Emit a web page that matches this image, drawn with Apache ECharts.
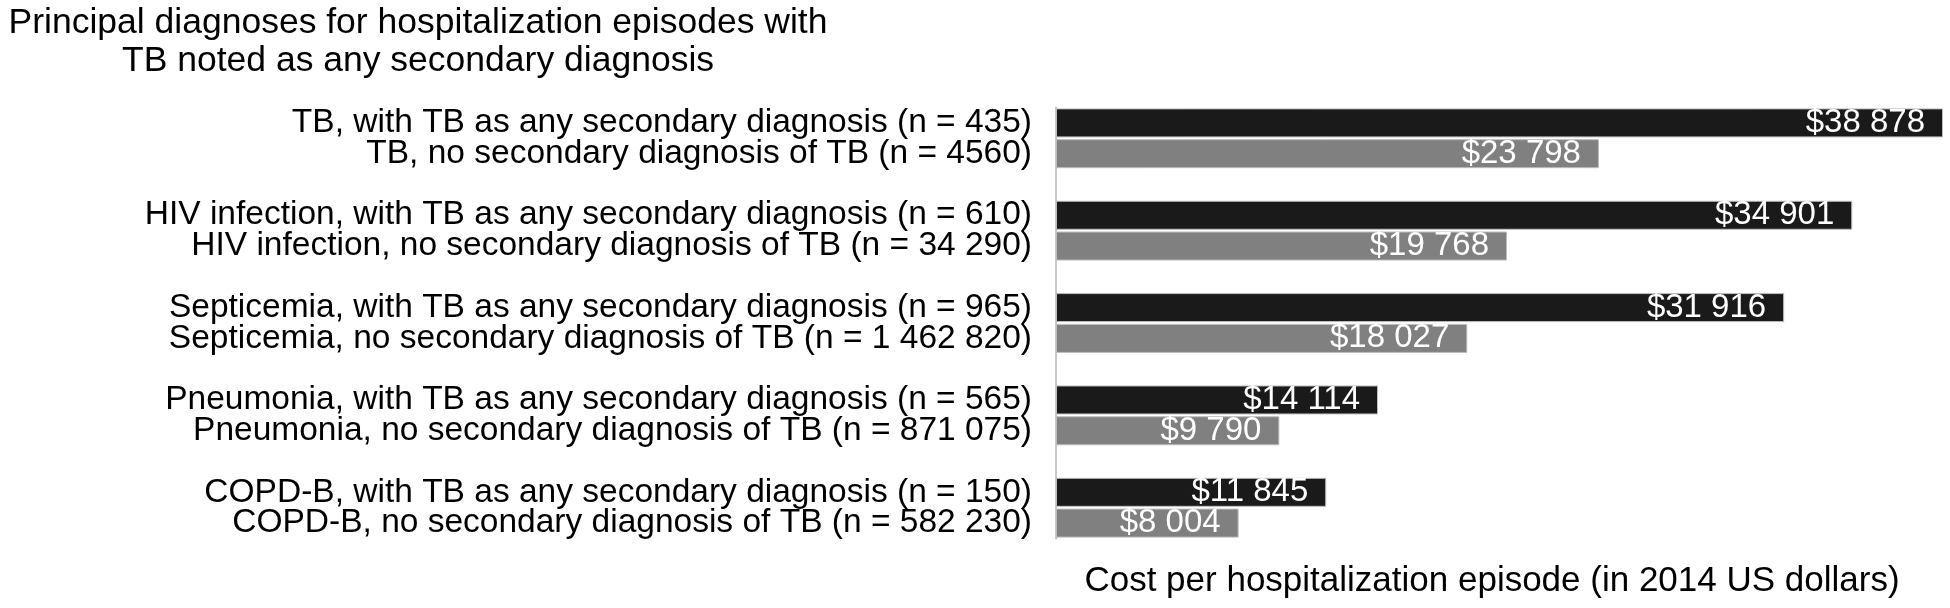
<!DOCTYPE html>
<html>
<head>
<meta charset="utf-8" />
<title>Cost per hospitalization episode</title>
<script src="https://cdn.jsdelivr.net/npm/echarts@6/dist/echarts.min.js"></script>
<style>
  html, body { margin: 0; padding: 0; background: #fff; }
  #main { width: 1950px; height: 608px; }
</style>
</head>
<body>
<div id="main"></div>
<script>
// principal diagnoses, top to bottom
var diagnoses = ['TB', 'HIV infection', 'Septicemia', 'Pneumonia', 'COPD-B'];
// number of episodes
var nWithTB = [435, 610, 965, 565, 150];
var nNoTB = [4560, 34290, 1462820, 871075, 582230];
// cost per episode, 2014 US dollars
var costWithTB = [38878, 34901, 31916, 14114, 11845];
var costNoTB = [23798, 19768, 18027, 9790, 8004];

var FONT = '"Liberation Sans", Arial, Helvetica, sans-serif';

function spaced(v) {
  return String(v).replace(/\B(?=(\d{3})+(?!\d))/g, ' ');
}
function nText(v) {
  return v >= 10000 ? spaced(v) : String(v);
}

// one row per bar, blank row between diagnoses
var rows = [], withData = [], noData = [];
diagnoses.forEach(function (d, i) {
  rows.push(d + ', with TB as any secondary diagnosis (n = ' + nText(nWithTB[i]) + ')');
  withData.push(costWithTB[i]); noData.push('-');
  rows.push(d + ', no secondary diagnosis of TB (n = ' + nText(nNoTB[i]) + ')');
  withData.push('-'); noData.push(costNoTB[i]);
  if (i < diagnoses.length - 1) {
    rows.push('');
    withData.push('-'); noData.push('-');
  }
});

var myChart = echarts.init(document.getElementById('main'));

var valueLabel = {
  show: true,
  position: 'insideRight',
  distance: 18,
  color: '#fff',
  fontSize: 33,
  fontFamily: FONT,
  formatter: function (p) { return '$' + spaced(p.value); }
};

var option = {
  animation: false,
  backgroundColor: '#fff',
  grid: { left: 1056, right: 7, top: 107.5, height: 431, containLabel: false },
  graphic: [{
    type: 'text',
    x: 418,
    y: 4,
    style: {
      text: 'Principal diagnoses for hospitalization episodes with\nTB noted as any secondary diagnosis',
      align: 'center',
      textAlign: 'center',
      fontSize: 35.5,
      lineHeight: 38,
      fontFamily: FONT,
      fill: '#000'
    }
  }],
  xAxis: {
    type: 'value',
    min: 0,
    max: 'dataMax',
    axisLine: { show: false },
    axisTick: { show: false },
    axisLabel: { show: false },
    splitLine: { show: false },
    name: 'Cost per hospitalization episode (in 2014 US dollars)',
    nameLocation: 'middle',
    nameGap: 25,
    nameTextStyle: {
      color: '#000',
      fontSize: 35,
      fontFamily: FONT,
      verticalAlign: 'top',
      padding: [0, 15, 0, 0]
    }
  },
  yAxis: {
    type: 'category',
    inverse: true,
    data: rows,
    axisLine: { show: true, lineStyle: { color: '#c8c8c8', width: 2 } },
    axisTick: { show: false },
    axisLabel: {
      color: '#000',
      fontSize: 33.5,
      fontFamily: FONT,
      margin: 24,
      interval: 0
    },
    splitLine: { show: false }
  },
  series: [{
    name: 'With TB as any secondary diagnosis',
    type: 'bar',
    data: withData,
    barWidth: 29,
    barGap: '-100%',
    itemStyle: { color: '#1a1a1a', borderColor: '#bdbdbd', borderWidth: 1 },
    label: valueLabel
  }, {
    name: 'No secondary diagnosis of TB',
    type: 'bar',
    data: noData,
    barWidth: 29,
    itemStyle: { color: '#808080', borderColor: '#bdbdbd', borderWidth: 1 },
    label: valueLabel
  }]
};

myChart.setOption(option);
</script>
</body>
</html>
